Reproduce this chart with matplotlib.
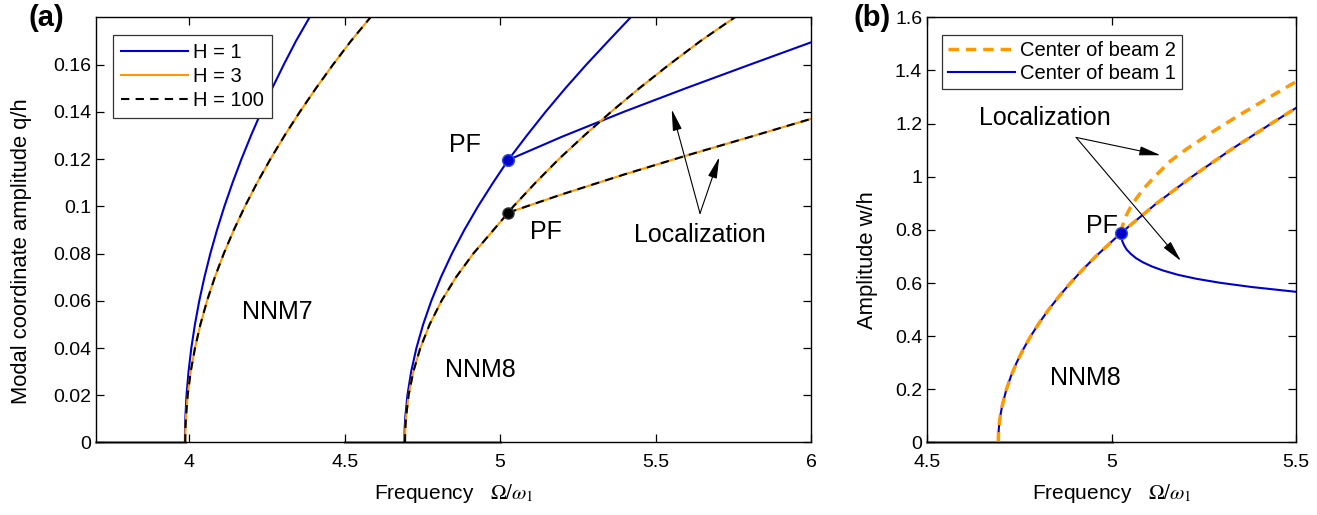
import matplotlib
matplotlib.use("Agg")
import matplotlib.pyplot as plt
from matplotlib.lines import Line2D

plt.rcParams['font.family'] = ['Liberation Sans', 'DejaVu Sans']
plt.rcParams['mathtext.fontset'] = 'stix'

BLUE = '#0000cc'
ORANGE = '#ff9900'

# ---- panel (a): backbone curves, modal coordinate vs frequency ----
# NNM7
nnm7_h1_freq = [3.986, 3.9863, 3.9873, 3.9911, 3.9976, 4.0066, 4.0182, 4.0322, 4.0488, 4.0678,
                4.0893, 4.1131, 4.1393, 4.1679, 4.1987, 4.2317, 4.2668, 4.3041, 4.3434, 4.3870]
nnm7_h1_amp = [0.0, 0.005, 0.01, 0.02, 0.03, 0.04, 0.05, 0.06, 0.07, 0.08,
               0.09, 0.10, 0.11, 0.12, 0.13, 0.14, 0.15, 0.16, 0.17, 0.18]
nnm7_h3_freq = [3.987, 3.9875, 3.989, 3.9949, 4.0046, 4.0184, 4.0359, 4.0572, 4.0823, 4.1111,
                4.1434, 4.1792, 4.2185, 4.2611, 4.3069, 4.3558, 4.4078, 4.4626, 4.5203, 4.5830]
nnm7_h3_amp = [0.0, 0.005, 0.01, 0.02, 0.03, 0.04, 0.05, 0.06, 0.07, 0.08,
               0.09, 0.10, 0.11, 0.12, 0.13, 0.14, 0.15, 0.16, 0.17, 0.18]

# NNM8, main branch through the pitchfork
nnm8_h1_freq = [4.692, 4.6926, 4.6944, 4.7017, 4.7138, 4.7307, 4.7524, 4.7787, 4.8096, 4.8450,
                4.8849, 4.9290, 4.9773, 5.026, 5.0861, 5.1463, 5.2101, 5.2775, 5.3483, 5.4200]
nnm8_h1_amp = [0.0, 0.005, 0.01, 0.02, 0.03, 0.04, 0.05, 0.06, 0.07, 0.08,
               0.09, 0.10, 0.11, 0.1196, 0.13, 0.14, 0.15, 0.16, 0.17, 0.18]
nnm8_h3_freq = [4.694, 4.6947, 4.6968, 4.7055, 4.7208, 4.7432, 4.7733, 4.8115, 4.8582, 4.9139,
                4.9788, 5.026, 5.043, 5.114, 5.189, 5.271, 5.357, 5.448, 5.544, 5.645, 5.755]
nnm8_h3_amp = [0.0, 0.005, 0.01, 0.02, 0.03, 0.04, 0.05, 0.06, 0.07, 0.08,
               0.09, 0.0973, 0.10, 0.11, 0.12, 0.13, 0.14, 0.15, 0.16, 0.17, 0.18]

# localized branches after the pitchfork
loc_h1_freq = [5.026, 5.2, 5.4, 5.6, 5.8, 6.0]
loc_h1_amp = [0.1196, 0.1295, 0.1401, 0.1501, 0.1598, 0.1694]
loc_h3_freq = [5.026, 5.2, 5.4, 5.6, 5.8, 6.0]
loc_h3_amp = [0.0973, 0.1051, 0.1135, 0.1215, 0.1292, 0.1370]

pf_a_freq = [5.026, 5.026]
pf_a_amp = [0.1196, 0.0973]

# ---- panel (b): physical amplitude at beam centres, NNM8 ----
b_main_freq = [4.693, 4.6935, 4.6944, 4.6961, 4.6985, 4.7039, 4.7151, 4.7275, 4.7426, 4.7604, 4.7808,
               4.8039, 4.8295, 4.8577, 4.8884, 4.9215, 4.9570, 5.026, 5.1221, 5.2177, 5.3213, 5.4325, 5.5]
b_main_amp = [0.0, 0.03, 0.05, 0.075, 0.1, 0.14, 0.2, 0.25, 0.3, 0.35, 0.4,
              0.45, 0.5, 0.55, 0.6, 0.65, 0.7, 0.789, 0.9, 1.0, 1.1, 1.2, 1.259]
b_beam2_freq = [5.026, 5.0275, 5.032, 5.040, 5.052, 5.068, 5.09, 5.12, 5.16, 5.204, 5.27, 5.339, 5.42, 5.5]
b_beam2_amp = [0.789, 0.805, 0.825, 0.855, 0.887, 0.92, 0.96, 1.005, 1.06, 1.105, 1.166, 1.226, 1.293, 1.358]
b_beam1_freq = [5.026, 5.0265, 5.029, 5.034, 5.041, 5.052, 5.066, 5.085, 5.11, 5.14, 5.18, 5.23, 5.294, 5.38, 5.5]
b_beam1_amp = [0.789, 0.775, 0.758, 0.742, 0.726, 0.710, 0.694, 0.678, 0.662, 0.647, 0.631, 0.616, 0.601, 0.585, 0.567]
pf_b = (5.026, 0.789)

fig = plt.figure(figsize=(13.17, 5.15), dpi=100)
ax1 = fig.add_axes([0.0729, 0.1408, 0.5429, 0.8256])
ax2 = fig.add_axes([0.7039, 0.1408, 0.2802, 0.8256])

dash_k = (0, (4, 3))
dash_o = (0, (3, 2))

# trivial solution (gray)
ax1.plot([3.7, 3.986], [0, 0], color='#999999', lw=2.2, clip_on=False, zorder=1)
ax1.plot([4.5, 5.0], [0, 0], color='#999999', lw=2.2, clip_on=False, zorder=1)
ax2.plot([4.5, 5.0], [0, 0], color='#999999', lw=2.2, clip_on=False, zorder=1)

for f, a in [(nnm7_h1_freq, nnm7_h1_amp), (nnm8_h1_freq, nnm8_h1_amp), (loc_h1_freq, loc_h1_amp)]:
    ax1.plot(f, a, color=BLUE, lw=1.5)
for f, a in [(nnm7_h3_freq, nnm7_h3_amp), (nnm8_h3_freq, nnm8_h3_amp), (loc_h3_freq, loc_h3_amp)]:
    ax1.plot(f, a, color=ORANGE, lw=1.5)
    ax1.plot(f, a, color='k', lw=1.5, linestyle=dash_k)

ax1.plot(pf_a_freq[0], pf_a_amp[0], 'o', ms=8.5, mfc=BLUE, mec='#3050e0', mew=1, zorder=5)
ax1.plot(pf_a_freq[1], pf_a_amp[1], 'o', ms=8, mfc='k', mec='#333333', mew=1, zorder=5)

ax1.set_xlim(3.7, 6)
ax1.set_ylim(0, 0.18)
ax1.set_xticks([4, 4.5, 5, 5.5, 6])
ax1.set_xticklabels(['4', '4.5', '5', '5.5', '6'])
ax1.set_yticks([0, 0.02, 0.04, 0.06, 0.08, 0.1, 0.12, 0.14, 0.16])
ax1.set_yticklabels(['0', '0.02', '0.04', '0.06', '0.08', '0.1', '0.12', '0.14', '0.16'])
ax1.set_xlabel(r'Frequency   $\Omega/\omega_1$', fontsize=15, labelpad=8)
ax1.set_ylabel('Modal coordinate amplitude q/h', fontsize=15.8)
ax1.yaxis.set_label_coords(-0.09, 0.45)

ax1.text(4.887, 0.126, 'PF', fontsize=18, ha='center', va='center')
ax1.text(5.147, 0.089, 'PF', fontsize=18, ha='center', va='center')
ax1.text(5.643, 0.088, 'Localization', fontsize=18, ha='center', va='center')
ax1.text(4.282, 0.0553, 'NNM7', fontsize=18, ha='center', va='center')
ax1.text(4.935, 0.0307, 'NNM8', fontsize=18, ha='center', va='center')

arrow = dict(arrowstyle='-|>,head_length=1.3,head_width=0.28', lw=0.8, color='k',
             mutation_scale=10, shrinkA=0, shrinkB=0)
ax1.annotate('', xy=(5.552, 0.141), xytext=(5.643, 0.097), arrowprops=arrow)
ax1.annotate('', xy=(5.705, 0.1208), xytext=(5.643, 0.097), arrowprops=arrow)

handles_a = [Line2D([], [], color=BLUE, lw=1.5),
             Line2D([], [], color=ORANGE, lw=1.5),
             Line2D([], [], color='k', lw=1.5, linestyle=dash_k)]
leg = ax1.legend(handles_a, ['H = 1', 'H = 3', 'H = 100'], loc='upper left',
                 bbox_to_anchor=(0.024, 0.958), borderaxespad=0, fontsize=14.5,
                 handlelength=3.3, handletextpad=0.25, labelspacing=0.25,
                 fancybox=False, framealpha=1, edgecolor='#333333', borderpad=0.4)
leg.get_frame().set_linewidth(0.9)

# panel (b)
ax2.plot(b_main_freq, b_main_amp, color=BLUE, lw=1.5)
ax2.plot(b_beam1_freq, b_beam1_amp, color=BLUE, lw=1.5)
ax2.plot(b_main_freq, b_main_amp, color=ORANGE, lw=2.5, linestyle=dash_o)
ax2.plot(b_beam2_freq, b_beam2_amp, color=ORANGE, lw=2.5, linestyle=dash_o)
ax2.plot(pf_b[0], pf_b[1], 'o', ms=8.5, mfc=BLUE, mec='#3050e0', mew=1, zorder=5)

ax2.set_xlim(4.5, 5.5)
ax2.set_ylim(0, 1.6)
ax2.set_xticks([4.5, 5, 5.5])
ax2.set_xticklabels(['4.5', '5', '5.5'])
ax2.set_yticks([0, 0.2, 0.4, 0.6, 0.8, 1, 1.2, 1.4, 1.6])
ax2.set_yticklabels(['0', '0.2', '0.4', '0.6', '0.8', '1', '1.2', '1.4', '1.6'])
ax2.set_xlabel(r'Frequency   $\Omega/\omega_1$', fontsize=15, labelpad=8)
ax2.set_ylabel('Amplitude w/h', fontsize=15.8)
ax2.yaxis.set_label_coords(-0.133, 0.43)

ax2.text(4.820, 1.221, 'Localization', fontsize=18, ha='center', va='center')
ax2.text(4.974, 0.815, 'PF', fontsize=18, ha='center', va='center')
ax2.text(4.928, 0.243, 'NNM8', fontsize=18, ha='center', va='center')
ax2.annotate('', xy=(5.133, 1.081), xytext=(4.904, 1.148), arrowprops=arrow)
ax2.annotate('', xy=(5.188, 0.683), xytext=(4.904, 1.148), arrowprops=arrow)

handles_b = [Line2D([], [], color=ORANGE, lw=2.5, linestyle=dash_o),
             Line2D([], [], color=BLUE, lw=1.5)]
leg2 = ax2.legend(handles_b, ['Center of beam 2', 'Center of beam 1'], loc='upper left',
                  bbox_to_anchor=(0.041, 0.958), borderaxespad=0, fontsize=14.5,
                  handlelength=3.3, handletextpad=0.25, labelspacing=0.2,
                  fancybox=False, framealpha=1, edgecolor='#333333', borderpad=0.3)
leg2.get_frame().set_linewidth(0.9)

for ax in (ax1, ax2):
    ax.tick_params(direction='in', top=True, right=True, length=6, width=0.9, labelsize=14)
    ax.tick_params(axis='x', pad=8)
    for s in ax.spines.values():
        s.set_linewidth(1.0)

fig.text(0.022, 0.965, '(a)', fontsize=21, fontweight='bold', ha='left', va='center')
fig.text(0.648, 0.965, '(b)', fontsize=21, fontweight='bold', ha='left', va='center')

fig.savefig('out.png', dpi=100)
